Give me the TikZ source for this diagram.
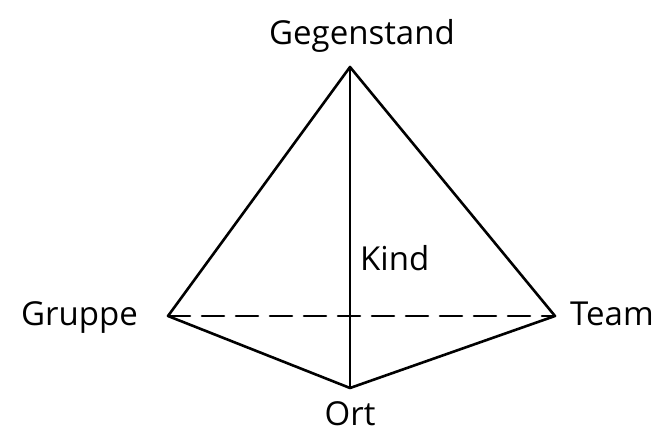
\documentclass[tikz,border=0pt]{standalone}
\usepackage{fontspec}
\setmainfont{Open Sans}
\usetikzlibrary{positioning}
\tikzset{
  edge/.style={line width=2.6pt,line cap=round,line join=round},
  hidden/.style={edge,dashed,dash pattern=on 22pt off 12pt},
  lbl/.style={font=\fontsize{33}{39}\selectfont,inner sep=0pt}
}
\begin{document}
\begin{tikzpicture}[x=1pt,y=-1pt]
\useasboundingbox (0,0) rectangle (657,432);
% corners of the pyramid
\coordinate (top) at (350,67);
\coordinate (left) at (168,316);
\coordinate (right) at (555,316);
\coordinate (bottom) at (350,388);
% labels
\node[lbl,anchor=base] (gegenstand) at (362,44) {Gegenstand};
\node[lbl,anchor=base east] (gruppe) at (138,325) {Gruppe};
\node[lbl,anchor=base west] (team) at (570,325) {Team};
\node[lbl,anchor=base] (ort) at (350,425) {Ort};
\node[lbl,anchor=base west] (kind) at (360,270) {Kind};
% edges
\draw[edge] (top) -- (left) -- (bottom) -- (right) -- cycle;
\draw[edge] (top) -- (bottom);
\draw[hidden] (left) -- (right);
\end{tikzpicture}
\end{document}
